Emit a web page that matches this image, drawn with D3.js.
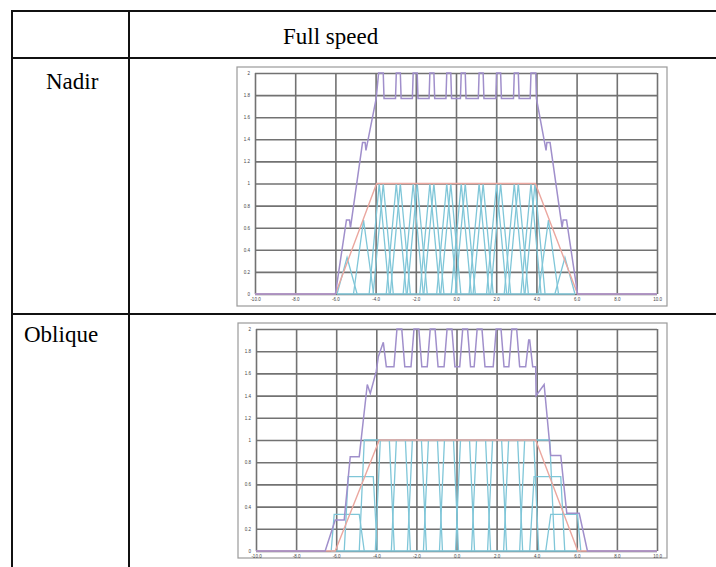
<!DOCTYPE html>
<html>
<head>
<meta charset="utf-8">
<script src="https://cdn.jsdelivr.net/npm/d3@7"></script>
<style>
  body { margin: 0; background: #fff; }
  text.cell { font-family: "Liberation Serif", serif; font-size: 23px; fill: #000; }
  .tick text { font-family: "Liberation Sans", sans-serif; font-size: 4.5px; fill: #444; }
</style>
</head>
<body>
<svg id="canvas" width="716" height="567"></svg>
<script>
// ---- data ----
var xTicks = [-10, -8, -6, -4, -2, 0, 2, 4, 6, 8, 10];
var yTicks = [0, 0.2, 0.4, 0.6, 0.8, 1, 1.2, 1.4, 1.6, 1.8, 2];
var header = 'Full speed';
var rowLabels = ['Nadir', 'Oblique'];

// ideal response (pink)
var nadirPink = [[-10,0],[-6,0],[-3.95,1],[3.95,1],[6.05,0],[10,0]];
var obliquePink = [[-10,0],[-6.05,0],[-3.85,1],[3.95,1],[6.05,0],[10,0]];

// summed response (purple)
var nadirPurple = [[-10,0],[-6,0],[-5.45,0.67],[-5.3,0.67],[-5.25,0.6],[-4.65,1.37],[-4.52,1.37],[-4.48,1.3],
  [-3.97,1.77],[-3.85,2],[-3.62,2],[-3.58,1.77],[-3.01,1.77],[-2.97,2],[-2.77,2],[-2.73,1.77],
  [-2.17,1.77],[-2.13,2],[-1.93,2],[-1.89,1.77],[-1.34,1.77],[-1.3,2],[-1.1,2],[-1.06,1.77],
  [-0.5,1.77],[-0.46,2],[-0.26,2],[-0.22,1.77],[0.22,1.77],[0.26,2],[0.46,2],[0.5,1.77],
  [1.11,1.77],[1.15,2],[1.35,2],[1.39,1.77],[1.98,1.77],[2.02,2],[2.22,2],[2.26,1.77],
  [2.86,1.77],[2.9,2],[3.1,2],[3.14,1.77],[3.69,1.77],[3.73,2],[3.97,2],[4.0,1.77],
  [4.48,1.3],[4.52,1.37],[4.68,1.37],[5.28,0.6],[5.33,0.67],[5.5,0.67],[6.05,0],[10,0]];
var obliquePurple = [[-10,0],[-6.55,0],[-6.05,0.28],[-5.6,0.28],[-5.3,0.85],[-4.85,0.85],[-4.45,1.5],[-4.3,1.42],
  [-4.0,1.62],[-3.9,1.75],[-3.65,1.88],[-3.5,1.66],[-3.12,1.66],[-2.97,2],[-2.73,2],[-2.58,1.66],
  [-2.27,1.66],[-2.12,2],[-1.88,2],[-1.73,1.66],[-1.46,1.66],[-1.31,2],[-1.07,2],[-0.92,1.66],
  [-0.62,1.66],[-0.47,2],[-0.23,2],[-0.08,1.66],[0.16,1.66],[0.31,2],[0.55,2],[0.7,1.66],
  [0.88,1.66],[1.03,2],[1.27,2],[1.42,1.66],[1.83,1.66],[1.98,2],[2.22,2],[2.37,1.66],
  [2.61,1.66],[2.76,2],[3.0,2],[3.15,1.66],[3.45,1.66],[3.6,1.9],[3.65,1.9],[3.8,1.66],
  [3.95,1.66],[3.97,1.4],[4.37,1.5],[4.7,0.86],[5.2,0.86],[5.5,0.34],[6.12,0.34],[6.53,0],[10,0]];

// individual samples (cyan): [left foot, top start, top end, right foot, peak]
var nadirCyan = [
  [-5.92,-5.42,-5.42,-4.92,0.33],[-5.1,-4.6,-4.6,-4.1,0.67],
  [-4.32,-3.82,-3.82,-3.32,1],[-4.12,-3.62,-3.62,-3.12,1],
  [-3.47,-2.97,-2.97,-2.47,1],[-3.27,-2.77,-2.77,-2.27,1],
  [-2.63,-2.13,-2.13,-1.63,1],[-2.43,-1.93,-1.93,-1.43,1],
  [-1.8,-1.3,-1.3,-0.8,1],[-1.6,-1.1,-1.1,-0.6,1],
  [-0.96,-0.46,-0.46,0.04,1],[-0.76,-0.26,-0.26,0.24,1],
  [-0.24,0.26,0.26,0.76,1],[-0.04,0.46,0.46,0.96,1],
  [0.65,1.15,1.15,1.65,1],[0.85,1.35,1.35,1.85,1],
  [1.52,2.02,2.02,2.52,1],[1.72,2.22,2.22,2.72,1],
  [2.4,2.9,2.9,3.4,1],[2.6,3.1,3.1,3.6,1],
  [3.23,3.73,3.73,4.23,1],[3.43,3.93,3.93,4.43,1],
  [4.1,4.6,4.6,5.1,0.67],[4.92,5.42,5.42,5.92,0.33]];
var obliqueCyan = [
  [-6.25,-6.1,-4.85,-4.6,0.33],[-5.6,-5.4,-4.15,-3.95,0.67],
  [-4.85,-4.6,-3.35,-3.1,1],[-4.05,-3.8,-2.55,-2.3,1],[-3.25,-3.0,-1.75,-1.5,1],
  [-2.45,-2.2,-0.95,-0.7,1],[-1.65,-1.4,-0.15,0.1,1],[-0.85,-0.6,0.65,0.9,1],
  [-0.05,0.2,1.45,1.7,1],[0.75,1.0,2.25,2.5,1],[1.55,1.8,3.05,3.3,1],
  [2.35,2.6,3.85,4.1,1],[3.15,3.4,4.65,4.9,1],
  [3.65,3.87,5.2,5.4,0.67],[4.45,4.7,6.03,6.2,0.33]];

// ---- layout ----
var svg = d3.select('#canvas');
var colors = {pink: '#eba79f', purple: '#a08fcb', cyan: '#7fc6d8', grid: '#727272'};

var charts = [
  {frame: [237, 67, 430, 239], plot: {left: 255, right: 657, top: 73, bottom: 294},
   pink: nadirPink, purple: nadirPurple, cyan: nadirCyan},
  {frame: [238, 323, 429, 235], plot: {left: 256, right: 657, top: 329, bottom: 551},
   pink: obliquePink, purple: obliquePurple, cyan: obliqueCyan}
];

// table
var table = svg.append('g').attr('stroke', '#111').attr('stroke-width', 2);
table.append('line').attr('x1', 12).attr('x2', 716).attr('y1', 11).attr('y2', 11);
table.append('line').attr('x1', 12).attr('x2', 716).attr('y1', 58).attr('y2', 58);
table.append('line').attr('x1', 12).attr('x2', 716).attr('y1', 314).attr('y2', 314);
table.append('line').attr('x1', 12).attr('x2', 12).attr('y1', 10).attr('y2', 567);
table.append('line').attr('x1', 129).attr('x2', 129).attr('y1', 10).attr('y2', 567);

svg.append('text').attr('class', 'cell').attr('x', 283).attr('y', 44).text(header);
svg.append('text').attr('class', 'cell').attr('x', 46).attr('y', 89).text(rowLabels[0]);
svg.append('text').attr('class', 'cell').attr('x', 24).attr('y', 342).text(rowLabels[1]);

function drawChart(c) {
  var g = svg.append('g');
  var p = c.plot;
  g.append('rect')
    .attr('x', c.frame[0]).attr('y', c.frame[1])
    .attr('width', c.frame[2]).attr('height', c.frame[3])
    .attr('fill', '#fff').attr('stroke', '#9a9a9a').attr('stroke-width', 1.2);

  var x = d3.scaleLinear().domain([-10, 10]).range([p.left, p.right]);
  var y = d3.scaleLinear().domain([0, 2]).range([p.bottom, p.top]);

  // grid
  g.append('g')
    .attr('transform', 'translate(0,' + p.bottom + ')')
    .call(d3.axisBottom(x).tickValues(xTicks).tickSize(-(p.bottom - p.top)).tickFormat(''))
    .call(function(s) { s.select('.domain').remove(); });
  g.append('g')
    .attr('transform', 'translate(' + p.left + ',0)')
    .call(d3.axisLeft(y).tickValues(yTicks).tickSize(-(p.right - p.left)).tickFormat(''))
    .call(function(s) { s.select('.domain').remove(); });
  g.selectAll('.tick line').attr('stroke', colors.grid).attr('stroke-width', 1.6);

  // tick labels
  g.append('g')
    .attr('transform', 'translate(0,' + (p.bottom + 1) + ')')
    .call(d3.axisBottom(x).tickValues(xTicks).tickSize(0).tickPadding(3)
      .tickFormat(function(d) { return d.toFixed(1); }))
    .call(function(s) { s.select('.domain').remove(); });
  g.append('g')
    .attr('transform', 'translate(' + (p.left - 2) + ',0)')
    .call(d3.axisLeft(y).tickValues(yTicks).tickSize(0).tickPadding(3)
      .tickFormat(function(d) { return String(+d.toFixed(1)); }))
    .call(function(s) { s.select('.domain').remove(); });

  var line = d3.line().x(function(d) { return x(d[0]); }).y(function(d) { return y(d[1]); });

  // cyan samples
  var ext = [d3.min(c.cyan, function(d) { return d[0]; }), d3.max(c.cyan, function(d) { return d[3]; })];
  g.append('path').attr('d', line([[ext[0], 0], [ext[1], 0]]))
    .attr('fill', 'none').attr('stroke', colors.cyan).attr('stroke-width', 1.4);
  g.selectAll('path.cyan').data(c.cyan).enter().append('path')
    .attr('class', 'cyan')
    .attr('d', function(d) { return line([[d[0], 0], [d[1], d[4]], [d[2], d[4]], [d[3], 0]]); })
    .attr('fill', 'none').attr('stroke', colors.cyan).attr('stroke-width', 1.3);

  g.append('path').attr('d', line(c.pink))
    .attr('fill', 'none').attr('stroke', colors.pink).attr('stroke-width', 1.4);
  g.append('path').attr('d', line(c.purple))
    .attr('fill', 'none').attr('stroke', colors.purple).attr('stroke-width', 1.5);
}

charts.forEach(drawChart);
</script>
</body>
</html>
